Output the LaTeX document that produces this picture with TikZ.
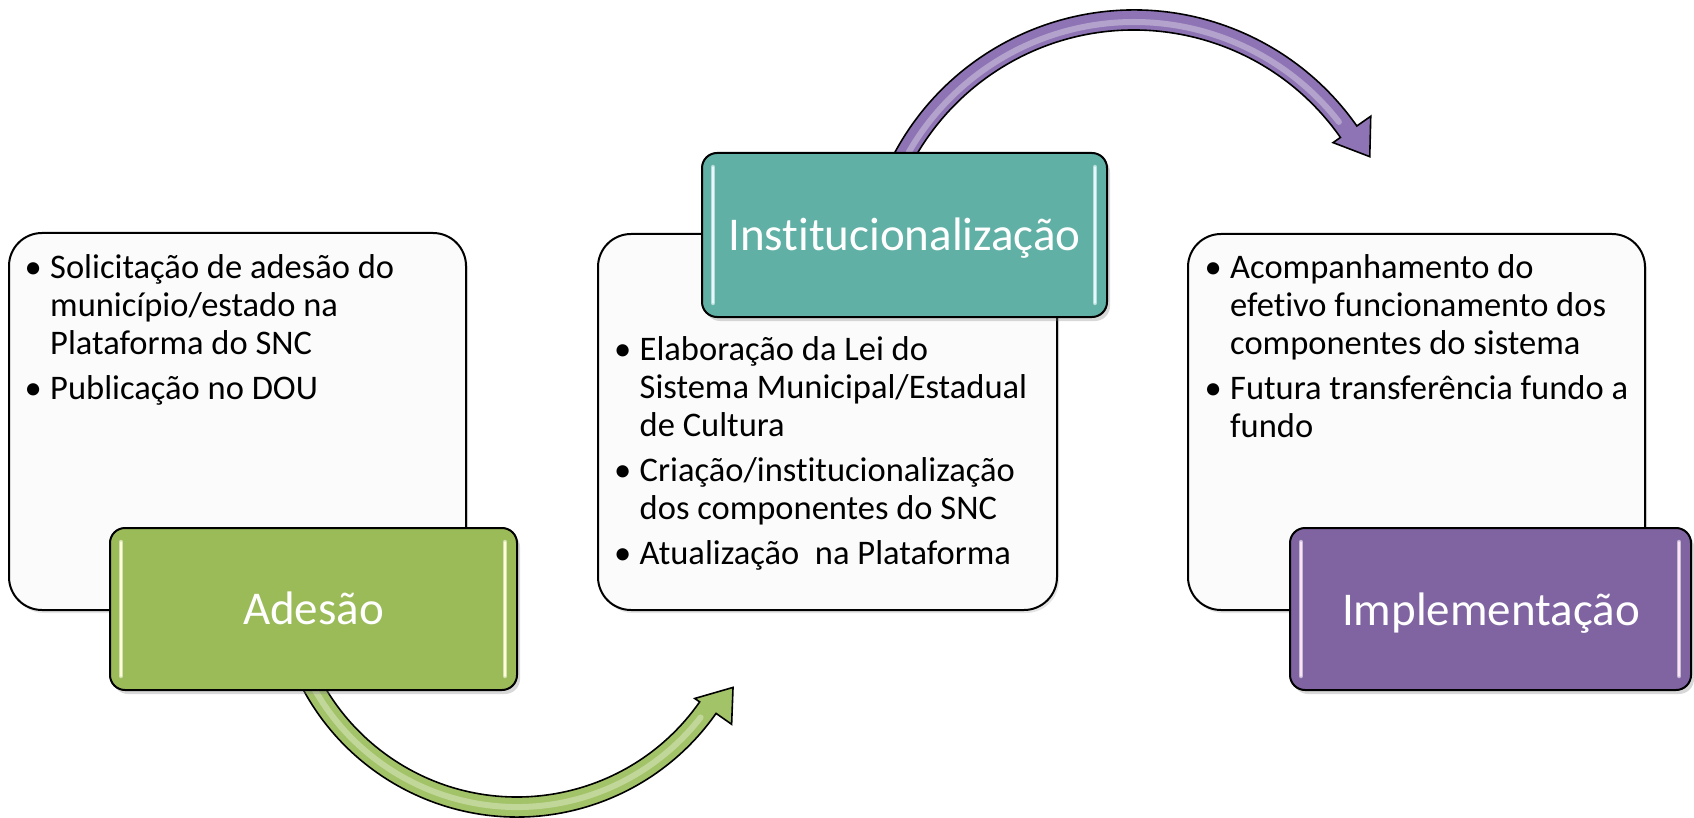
\documentclass[tikz,border=0pt]{standalone}
\usepackage{fontspec}
\setmainfont[Ligatures=NoCommon]{Carlito}
\usetikzlibrary{shadows,calc}
\definecolor{cgreen}{RGB}{155,187,89}
\definecolor{cteal}{RGB}{96,176,166}
\definecolor{cpurple}{RGB}{128,100,162}
\definecolor{agreen}{RGB}{163,195,104}
\definecolor{apurple}{RGB}{142,116,180}
\definecolor{wfill}{RGB}{251,251,251}
\newcommand{\bitem}[1]{\par\noindent\hangindent=25.5pt\hangafter=1\makebox[25.5pt][l]{\textbullet}#1}
\newcommand{\bodytext}[1]{\parbox[t]{440pt}{\fontsize{34.5}{38}\selectfont\setlength{\parskip}{7pt}#1}}
\newcommand{\glossy}[3]{%
  \draw[line width=4.5pt, #2, line cap=round, opacity=0.8] ([xshift=12pt,yshift=-15pt]#1.north west) -- ([xshift=12pt,yshift=15pt]#1.south west);
  \draw[line width=4.5pt, #2, line cap=round, opacity=0.8] ([xshift=-13pt,yshift=-15pt]#1.north east) -- ([xshift=-13pt,yshift=15pt]#1.south east);
  \draw[line width=1.5pt, #3, line cap=round] ([xshift=12pt,yshift=-15pt]#1.north west) -- ([xshift=12pt,yshift=15pt]#1.south west);
  \draw[line width=1.5pt, #3, line cap=round] ([xshift=-13pt,yshift=-15pt]#1.north east) -- ([xshift=-13pt,yshift=15pt]#1.south east);
}
\tikzset{
  wbox/.style={draw=black, line width=2pt, fill=wfill, rounded corners=33pt, inner sep=0pt,
    drop shadow={shadow xshift=2pt, shadow yshift=-3pt, opacity=0.2}},
  cbox/.style={draw=black, line width=2pt, rounded corners=15pt, inner sep=0pt,
    drop shadow={shadow xshift=3pt, shadow yshift=-4pt, opacity=0.3}},
  hdr/.style={anchor=base, inner sep=0pt, text=white, font=\fontsize{47}{50}\selectfont},
  body/.style={anchor=base west, inner sep=0pt, text=black},
  arrowline/.style={draw=black, line width=1.6pt}
}
\begin{document}
\begin{tikzpicture}[x=1pt,y=1pt]
\fill[white] (0,0) rectangle (1694,-818);
\useasboundingbox (0,0) rectangle (1694,-818);

% curved arrows (behind the boxes)
\coordinate (gc) at (517,-574);
\coordinate (pc) at (1134,-282);
\path[arrowline, fill=agreen] (gc) ++(200:243) arc[start angle=200, end angle=325, radius=243]
  -- ($(gc)+(325:262)$) -- ($(gc)+(332.3:244)$) -- ($(gc)+(325:217)$) -- ($(gc)+(325:223)$)
  arc[start angle=325, end angle=200, radius=223] -- cycle;
\draw[agreen!45!white, line width=6pt, opacity=0.6, line cap=round] (gc) ++(205:233) arc[start angle=205, end angle=322, radius=233];
\path[arrowline, fill=apurple] (pc) ++(155:272) arc[start angle=155, end angle=35, radius=272]
  -- ($(pc)+(35:289)$) -- ($(pc)+(28:267)$) -- ($(pc)+(35:243)$) -- ($(pc)+(35:252)$)
  arc[start angle=35, end angle=155, radius=252] -- cycle;
\draw[apurple!45!white, line width=6pt, opacity=0.6, line cap=round] (pc) ++(150:260) arc[start angle=150, end angle=38, radius=260];

% white content boxes
\node[wbox, minimum width=457pt, minimum height=377pt] (w1) at (237.5,-421.5) {};
\node[wbox, minimum width=459pt, minimum height=376pt] (w2) at (827.5,-422) {};
\node[wbox, minimum width=457pt, minimum height=376pt] (w3) at (1416.5,-422) {};

% coloured title boxes
\node[cbox, fill=cgreen, minimum width=407pt, minimum height=162pt] (g) at (313.5,-609) {};
\node[cbox, fill=cteal, minimum width=405pt, minimum height=164pt] (t) at (904.5,-235) {};
\node[cbox, fill=cpurple, minimum width=401pt, minimum height=162pt] (p) at (1490.5,-609) {};
\glossy{g}{cgreen!30!white}{white!85!yellow}
\glossy{t}{cteal!30!white}{white!90!cyan}
\glossy{p}{cpurple!30!white}{white!90!magenta}

% titles
\node[hdr] (tg) at (313.5,-624) {Adesão};
\node[hdr] (tt) at (904.5,-251) {Institucionalização};
\node[hdr] (tp) at (1491,-625) {Implementação};

% bullet texts
\node[body] (b1) at (24.5,-279) {\bodytext{%
  \bitem{Solicitação de adesão do\\ município/estado na\\ Plataforma do SNC}%
  \bitem{Publicação no DOU}}};
\node[body] (b2) at (614,-360) {\bodytext{%
  \bitem{Elaboração da Lei do\\ Sistema Municipal/Estadual\\ de Cultura}%
  \bitem{Criação/institucionalização\\ dos componentes do SNC}%
  \bitem{Atualização~~na Plataforma}}};
\node[body] (b3) at (1204.5,-279) {\bodytext{%
  \bitem{Acompanhamento do\\ efetivo funcionamento dos\\ componentes do sistema}%
  \bitem{Futura transferência fundo a\\ fundo}}};
\end{tikzpicture}
\end{document}
